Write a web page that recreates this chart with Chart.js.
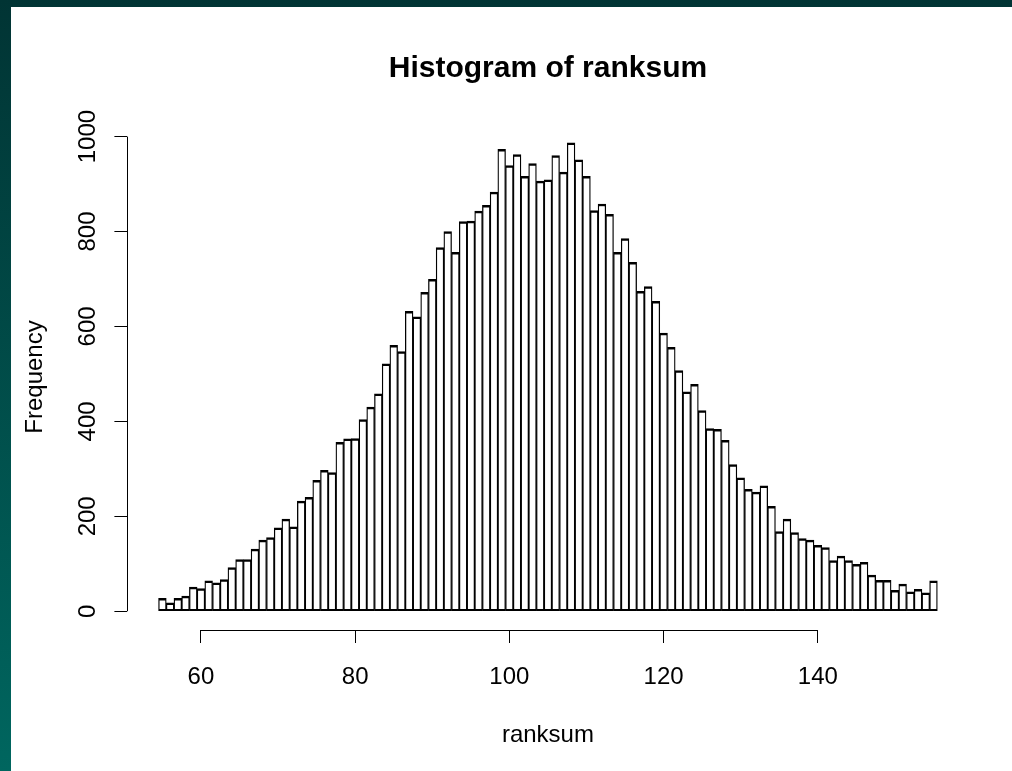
<!DOCTYPE html>
<html>
<head>
<meta charset="utf-8">
<title>Histogram of ranksum</title>
<script src="https://cdn.jsdelivr.net/npm/chart.js@4.4.0/dist/chart.umd.min.js"></script>
<style>
  html, body { margin: 0; padding: 0; }
  body {
    width: 1012px; height: 771px; overflow: hidden; position: relative;
    background: linear-gradient(180deg, #013434 0%, #00665f 100%);
  }
  #wrap { position: absolute; left: 11px; top: 7px; width: 1001px; height: 764px; background: #fff; }
</style>
</head>
<body>
<div id="wrap"><canvas id="hist" width="1001" height="764"></canvas></div>
<script>
/* Histograma de ranksum – estilo R base */

// valores de ranksum (centro de cada clase, ancho 1)
const ranksum = [
   55,  56,  57,  58,  59,  60,  61,  62,  63,  64,
   65,  66,  67,  68,  69,  70,  71,  72,  73,  74,
   75,  76,  77,  78,  79,  80,  81,  82,  83,  84,
   85,  86,  87,  88,  89,  90,  91,  92,  93,  94,
   95,  96,  97,  98,  99, 100, 101, 102, 103, 104,
  105, 106, 107, 108, 109, 110, 111, 112, 113, 114,
  115, 116, 117, 118, 119, 120, 121, 122, 123, 124,
  125, 126, 127, 128, 129, 130, 131, 132, 133, 134,
  135, 136, 137, 138, 139, 140, 141, 142, 143, 144,
  145, 146, 147, 148, 149, 150, 151, 152, 153, 154,
  155
];

// frecuencias
const frequency = [
   27,  18,  27,  32,  51,  48,  64,  60,  67,  92,
  109, 109, 131, 150, 155, 176, 194, 178, 232, 240,
  276, 297, 292, 356, 363, 364, 404, 430, 458, 521,
  560, 547, 632, 620, 672, 699, 766, 800, 756, 821,
  822, 843, 855, 883, 973, 939, 962, 916, 943, 906,
  909, 960, 925, 987, 951, 916, 844, 858, 836, 756,
  785, 735, 674, 684, 653, 586, 556, 507, 462, 478,
  423, 385, 383, 360, 309, 281, 257, 251, 264, 221,
  168, 194, 166, 153, 150, 139, 134, 107, 116, 107,
   99, 103,  76,  65,  65,  44,  57,  41,  46,  39,
   64
];

const xTicks = [60, 80, 100, 120, 140];
const yTicks = [0, 200, 400, 600, 800, 1000];

const FONT = '"Liberation Sans", Arial, Helvetica, sans-serif';

// Ejes tipo R: la línea sólo va del primer al último tick; etiquetas Y giradas
const rAxes = {
  id: 'rAxes',
  afterDraw(chart) {
    const { ctx, chartArea, scales: { x, y } } = chart;
    ctx.save();
    ctx.strokeStyle = '#000';
    ctx.lineWidth = 1;
    ctx.beginPath();
    const yb = Math.round(chartArea.bottom) + 0.5;
    ctx.moveTo(x.getPixelForValue(xTicks[0]), yb);
    ctx.lineTo(x.getPixelForValue(xTicks[xTicks.length - 1]), yb);
    const xl = Math.round(chartArea.left) + 0.5;
    ctx.moveTo(xl, y.getPixelForValue(yTicks[0]));
    ctx.lineTo(xl, y.getPixelForValue(yTicks[yTicks.length - 1]));
    ctx.stroke();

    ctx.fillStyle = '#000';
    ctx.font = '24px ' + FONT;
    ctx.textAlign = 'center';
    ctx.textBaseline = 'middle';
    yTicks.forEach(v => {
      ctx.save();
      ctx.translate(chartArea.left - 39, y.getPixelForValue(v));
      ctx.rotate(-Math.PI / 2);
      ctx.fillText(String(v), 0, 0);
      ctx.restore();
    });
    ctx.restore();
  }
};

Chart.defaults.font.family = FONT;
Chart.defaults.color = '#000';

const ctx = document.getElementById('hist').getContext('2d');
new Chart(ctx, {
  type: 'bar',
  data: {
    datasets: [{
      data: ranksum.map((v, i) => ({ x: v, y: frequency[i] })),
      backgroundColor: '#fff',
      borderColor: '#000',
      borderWidth: { top: 2.5, left: 1.3, right: 1.3, bottom: 2 },
      borderSkipped: false,
      barPercentage: 1,
      categoryPercentage: 1
    }]
  },
  options: {
    responsive: false,
    animation: false,
    layout: { padding: { left: 0, right: 43.5, top: 0, bottom: 0 } },
    plugins: {
      legend: { display: false },
      tooltip: { enabled: false },
      title: {
        display: true,
        text: 'Histogram of ranksum',
        fullSize: false,
        font: { size: 30, weight: 'bold' },
        color: '#000',
        padding: { top: 43.5, bottom: 37.5 }
      }
    },
    scales: {
      x: {
        type: 'linear',
        offset: false,
        min: 50.46,
        max: 159.54,
        afterBuildTicks: s => { s.ticks = xTicks.map(v => ({ value: v })); },
        afterFit: s => { s.height = 141; },
        grid: { offset: false, drawOnChartArea: false, drawTicks: true, tickLength: 13, color: '#000', lineWidth: 1 },
        border: { display: false },
        ticks: { autoSkip: false, maxRotation: 0, padding: 19.6, font: { size: 24 }, color: '#000' },
        title: { display: true, text: 'ranksum', font: { size: 24 }, color: '#000', padding: { top: 0, bottom: 21.6 } }
      },
      y: {
        min: -39.48,
        max: 1026.48,
        afterBuildTicks: s => { s.ticks = yTicks.map(v => ({ value: v })); },
        afterFit: s => { s.width = 116.4; },
        grid: { drawOnChartArea: false, drawTicks: true, tickLength: 13, color: '#000', lineWidth: 1 },
        border: { display: false },
        ticks: { display: false },
        title: { display: true, text: 'Frequency', font: { size: 24 }, color: '#000', padding: { top: 9.6, bottom: 0 } }
      }
    }
  },
  plugins: [rAxes]
});
</script>
</body>
</html>
